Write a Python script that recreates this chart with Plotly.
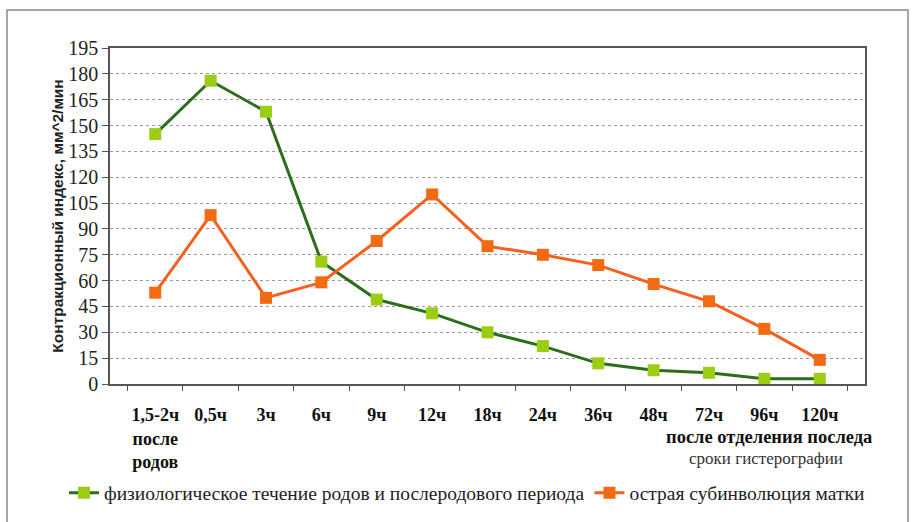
import plotly.graph_objects as go

categories = ["1,5-2ч<br>после<br>родов", "0,5ч", "3ч", "6ч", "9ч", "12ч", "18ч",
              "24ч", "36ч", "48ч", "72ч", "96ч", "120ч"]
physiological = [145, 176, 158, 71, 49, 41, 30, 22, 12, 8, 6.5, 3, 3]
subinvolution = [53, 98, 50, 59, 83, 110, 80, 75, 69, 58, 48, 32, 14]
y_ticks = list(range(0, 196, 15))

name_green = "физиологическое течение родов и послеродового периода"
name_orange = "острая субинволюция матки"

W, H = 914, 522
L, R, T, B = 110, 865, 48, 384

fig = go.Figure()
fig.add_trace(go.Scatter(
    x=categories, y=physiological, name=name_green, mode="lines+markers",
    line=dict(color="#2B6E1C", width=3),
    marker=dict(symbol="square", size=12, color="#9ACD14", line=dict(width=0)),
))
fig.add_trace(go.Scatter(
    x=categories, y=subinvolution, name=name_orange, mode="lines+markers",
    line=dict(color="#F5601E", width=3),
    marker=dict(symbol="square", size=12, color="#F26A12", line=dict(width=0)),
))

serif = "Liberation Serif, Times New Roman, serif"

def px_x(p):
    return (p - L) / (R - L)

def px_y(p):
    return (B - p) / (B - T)

fig.update_layout(
    width=W, height=H,
    margin=dict(l=L, r=W - R, t=T, b=H - B, autoexpand=False),
    paper_bgcolor="white", plot_bgcolor="white",
    showlegend=True,
    legend=dict(orientation="h", x=px_x(64), y=px_y(493), xanchor="left", yanchor="middle",
                font=dict(family=serif, size=19.5, color="#222"),
                bgcolor="rgba(0,0,0,0)", itemwidth=30, tracegroupgap=0),
    xaxis=dict(
        type="category", tickson="boundaries", ticks="outside", ticklen=5,
        tickcolor="#555", showline=True, linecolor="#555", linewidth=1.5, mirror=True,
        showgrid=False, tickangle=0,
        tickfont=dict(family=serif, size=18, color="#111", weight="bold"),
        ticklabelstandoff=14,
    ),
    yaxis=dict(
        range=[0, 195], tickvals=y_ticks, ticks="outside", ticklen=6, tickcolor="#555",
        showline=True, linecolor="#555", linewidth=1.5, mirror=True,
        showgrid=True, gridcolor="#999", griddash="dot", gridwidth=1,
        zeroline=False,
        tickfont=dict(family=serif, size=20, color="#222"),
        title=dict(text="Контракционный индекс, мм^2/мин",
                   font=dict(family="Liberation Sans, Arial, sans-serif", size=15.5,
                             color="#222", weight="bold"),
                   standoff=1),
    ),
    annotations=[
        dict(text="<b>после отделения последа</b>", xref="paper", yref="paper",
             x=px_x(874), y=px_y(437), xanchor="right", yanchor="middle", showarrow=False,
             font=dict(family=serif, size=18.5, color="#111")),
        dict(text="сроки гистерографии", xref="paper", yref="paper",
             x=px_x(766), y=px_y(458), xanchor="center", yanchor="middle", showarrow=False,
             font=dict(family=serif, size=17, color="#333")),
    ],
    shapes=[
        dict(type="rect", xref="paper", yref="paper",
             x0=px_x(7), x1=px_x(908), y0=px_y(530), y1=px_y(10),
             line=dict(color="#888", width=1.5)),
    ],
)

fig.write_html("out.html", config={"displayModeBar": False},
               post_script="document.body.style.margin='0';")
